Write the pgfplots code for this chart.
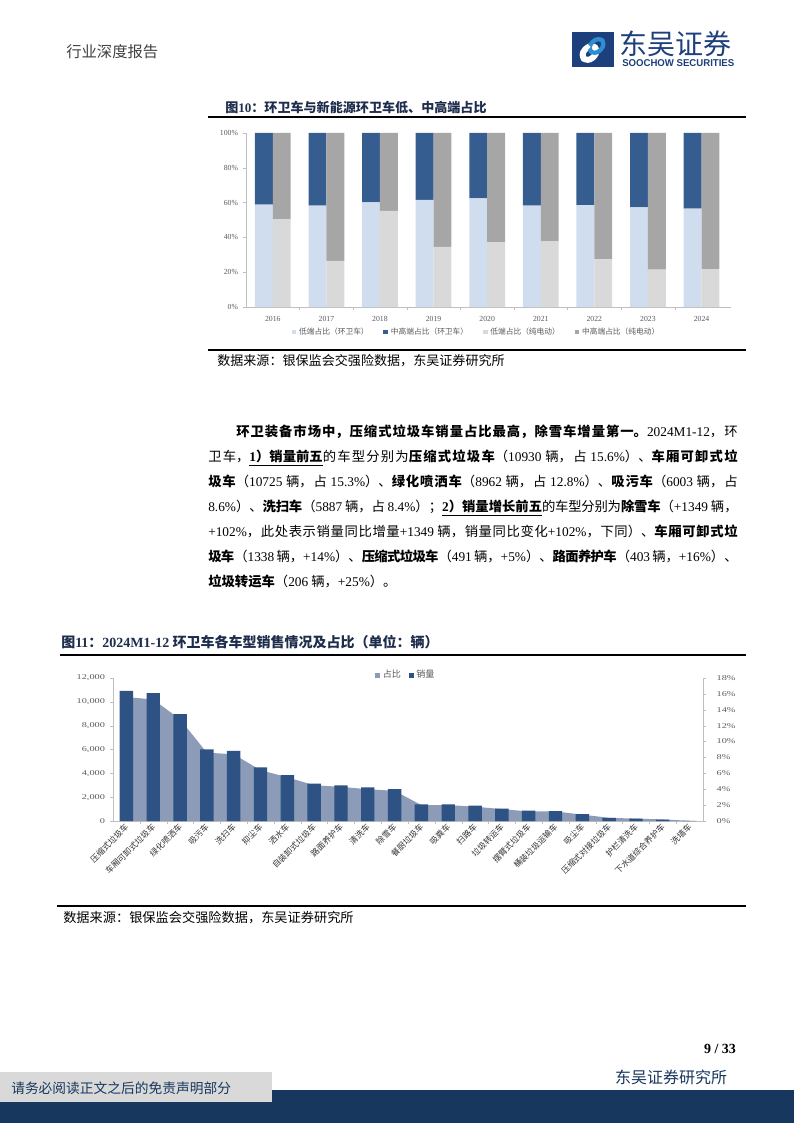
\documentclass[border=0pt]{standalone}
\usepackage{fontspec}
\usepackage{graphicx}
\usepackage{pgfplots}
\pgfplotsset{compat=1.18}
\setmainfont{Liberation Serif}
\newfontfamily\cjk{Noto Sans CJK SC}
\newfontfamily\lsans{Liberation Sans}
\XeTeXlinebreaklocale "zh"
\XeTeXlinebreakskip = 0pt plus 1.5pt minus 0.8pt
\definecolor{lowhw}{HTML}{D0DDEE}
\definecolor{midhw}{HTML}{365D8F}
\definecolor{lowev}{HTML}{D9D9D9}
\definecolor{midev}{HTML}{A6A6A6}
\definecolor{barblue}{HTML}{2E5283}
\definecolor{areablue}{HTML}{8C9BB8}
\definecolor{axgray}{HTML}{BFBFBF}
\definecolor{txtgray}{HTML}{595959}
\definecolor{footnavy}{HTML}{17375E}
\definecolor{logonavy}{HTML}{1D3F7C}
\definecolor{logocyan}{HTML}{2E8DD3}
\definecolor{titlec}{HTML}{1F2D4D}
\newcommand\B[1]{{\bfseries #1}}
\newcommand\N[1]{{\rmfamily #1}}
\pgfplotsset{
  sq/.style={legend image code/.code={\path[##1, draw=none] (0pt,-1.8pt) rectangle (3.6pt,1.8pt);}},
  cone/.style={scale only axis, width=363.75pt, height=130.5pt,
    at={(184.5pt,-230.25pt)}, anchor=south west,
    xmin=-0.5, xmax=8.55, ymin=0, ymax=100,
    ybar stacked, bar width=0.3333},
  ctwo/.style={scale only axis, width=442.5pt, height=107.25pt,
    at={(84.75pt,-615.75pt)}, anchor=south west,
    xmin=-0.5, xmax=21.5},
}
\begin{document}
\begin{tikzpicture}
\useasboundingbox (0,0) rectangle (595.5pt,-842.25pt);
\begin{scope}[x=0.75pt,y=-0.75pt]
% header
\node[anchor=west, inner sep=0, font=\cjk\fontsize{11.5}{12}\selectfont, text=black!75] at (66,52) {行业深度报告};
% logo
\fill[logonavy] (572,32) rectangle (614,67);
\begin{scope}[shift={(593,49.5)}, rotate=45]
  \draw[white, line width=4.5pt, rounded corners=5pt] (-13,-5.5) rectangle (3,5.5);
  \draw[logocyan, line width=3.2pt, rounded corners=5pt] (-3,-5.5) rectangle (13,5.5);
  \draw[white, line width=3pt] (-6,-5.5) -- (0,-5.5);
\end{scope}
\node[anchor=west, inner sep=0, font=\cjk\fontsize{21}{22}\selectfont, text=logonavy] at (619,44) {东吴证券};
\node[anchor=west, inner sep=0, text=logonavy] at (622,63) {\resizebox{84pt}{5.2pt}{\lsans\bfseries SOOCHOW SECURITIES}};
% figure 10 title and rules
\node[anchor=west, inner sep=0, font=\cjk\bfseries\fontsize{9.8}{10}\selectfont, text=titlec] at (225,107) {图\N{10}：环卫车与新能源环卫车低、中高端占比};
\draw[black, line width=1.5pt] (208,117.5) -- (746,117.5);
\draw[black, line width=1.5pt] (208,349.5) -- (746,349.5);
\node[anchor=west, inner sep=0, font=\cjk\fontsize{9.8}{10}\selectfont] at (217,361) {数据来源：银保监会交强险数据，东吴证券研究所};
% paragraph
\node[anchor=north west, inner sep=0, font=\cjk\fontsize{10}{18.75}\selectfont] at (208,425) {\parbox[t]{397pt}{\fontsize{10}{18.75}\selectfont\tolerance=10000\emergencystretch=0pt\parindent=0pt%
\hspace*{21pt}\B{环卫装备市场中，压缩式垃圾车销量占比最高，除雪车增量第一。}\N{2024M1-12}，环\linebreak
卫车，\underline{\B{\N{1}）销量前五}}的车型分别为\B{压缩式垃圾车}（\N{10930} 辆，占 \N{15.6\%}）、\B{车厢可卸式垃}\linebreak
\B{圾车}（\N{10725} 辆，占 \N{15.3\%}）、\B{绿化喷洒车}（\N{8962} 辆，占 \N{12.8\%}）、\B{吸污车}（\N{6003} 辆，占\linebreak
\N{8.6\%}）、\B{洗扫车}（\N{5887} 辆，占 \N{8.4\%}）；\underline{\B{\N{2}）销量增长前五}}的车型分别为\B{除雪车}（\N{+1349} 辆，\linebreak
\N{+102\%}，此处表示销量同比增量\N{+1349} 辆，销量同比变化\N{+102\%}，下同）、\B{车厢可卸式垃}\linebreak
\B{圾车}（\N{1338}\,辆，\N{+14\%}）、\B{压缩式垃圾车}（\N{491}\,辆，\N{+5\%}）、\B{路面养护车}（\N{403}\,辆，\N{+16\%}）、\linebreak
\B{垃圾转运车}（\N{206} 辆，\N{+25\%}）。}};
% figure 11 title and rules
\node[anchor=west, inner sep=0, font=\cjk\bfseries\fontsize{10.5}{11}\selectfont, text=titlec] at (61,642) {图\N{11}：\N{2024M1-12} 环卫车各车型销售情况及占比（单位：辆）};
\draw[black, line width=1.5pt] (60,654.5) -- (746,654.5);
\draw[black, line width=1.5pt] (57,905.5) -- (746,905.5);
\node[anchor=west, inner sep=0, font=\cjk\fontsize{9.9}{10}\selectfont] at (63,918) {数据来源：银保监会交强险数据，东吴证券研究所};
% footer
\node[anchor=center, inner sep=0, font=\bfseries\fontsize{10.5}{11}\selectfont] at (720,1049) {9 / 33};
\fill[footnavy] (0,1090) rectangle (794,1123);
\fill[lowev] (0,1072) rectangle (272,1102);
\node[anchor=west, inner sep=0, font=\cjk\fontsize{10.3}{11}\selectfont, text=footnavy] at (11,1088) {请务必阅读正文之后的免责声明部分};
\node[anchor=center, inner sep=0, font=\cjk\fontsize{12}{13}\selectfont, text=footnavy] at (671,1077) {东吴证券研究所};
\end{scope}

% ---------- Chart 1 ----------
\begin{axis}[cone,
  axis x line*=bottom, axis y line*=left,
  axis line style={draw=axgray, line width=0.6pt},
  tick align=outside,
  xtick={0,...,8}, xticklabels={2016,2017,2018,2019,2020,2021,2022,2023,2024},
  major x tick style={draw=none},
  minor xtick={0.5,1.5,...,7.5},
  minor tick length=2.5pt, minor tick style={draw=axgray},
  ytick={0,20,...,100}, yticklabels={0\%,20\%,40\%,60\%,80\%,100\%},
  ytick style={draw=axgray}, major tick length=2.5pt,
  tick label style={font=\fontsize{5.8}{6}\selectfont, text=txtgray},
  xticklabel style={yshift=-1pt},
]
\addplot[fill=lowhw, draw=none, bar shift=-0.1667] coordinates {(0,58.9) (1,58.2) (2,60.1) (3,61.6) (4,62.4) (5,58.2) (6,58.5) (7,57.2) (8,56.6)};
\addplot[fill=midhw, draw=none, bar shift=-0.1667] coordinates {(0,41.1) (1,41.8) (2,39.9) (3,38.4) (4,37.6) (5,41.8) (6,41.5) (7,42.8) (8,43.4)};
\end{axis}
\begin{axis}[cone, hide axis,
  legend style={at={(0.476,-0.144)}, anchor=center, draw=none, fill=none,
    font=\cjk\fontsize{5.8}{6}\selectfont, text=txtgray, legend columns=4,
    /tikz/every even column/.append style={column sep=9pt},
    inner sep=0pt, outer sep=0pt},
]
\addlegendimage{sq, fill=lowhw}
\addlegendimage{sq, fill=midhw}
\addlegendimage{sq, fill=lowev}
\addlegendimage{sq, fill=midev}
\addplot[fill=lowev, draw=none, bar shift=0.1667, forget plot] coordinates {(0,50.5) (1,26.5) (2,55.3) (3,34.5) (4,37.2) (5,37.8) (6,27.4) (7,21.5) (8,21.7)};
\addplot[fill=midev, draw=none, bar shift=0.1667, forget plot] coordinates {(0,49.5) (1,73.5) (2,44.7) (3,65.5) (4,62.8) (5,62.2) (6,72.6) (7,78.5) (8,78.3)};
\legend{低端占比（环卫车）,中高端占比（环卫车）,低端占比（纯电动）,中高端占比（纯电动）}
\end{axis}

% ---------- Chart 2 ----------
\begin{axis}[ctwo,
  ymin=0, ymax=18,
  axis x line*=bottom, axis y line*=right,
  axis line style={draw=axgray, line width=0.6pt},
  tick align=outside,
  xtick={0,...,21},
  xticklabels={压缩式垃圾车,车厢可卸式垃圾车,绿化喷洒车,吸污车,洗扫车,抑尘车,洒水车,自装卸式垃圾车,路面养护车,清洗车,除雪车,餐厨垃圾车,吸粪车,扫路车,垃圾转运车,摆臂式垃圾车,桶装垃圾运输车,吸尘车,压缩式对接垃圾车,护栏清洗车,下水道综合养护车,洗墙车},
  xticklabel style={rotate=45, anchor=east, font=\cjk\fontsize{6.2}{6.5}\selectfont, text=black!80, xshift=3pt, yshift=-1pt},
  major x tick style={draw=none},
  minor xtick={0.5,1.5,...,20.5},
  minor tick length=2.5pt, minor tick style={draw=axgray},
  ytick={0,2,...,18}, yticklabels={0\%,2\%,4\%,6\%,8\%,10\%,12\%,14\%,16\%,18\%},
  ytick style={draw=axgray}, major tick length=2.5pt,
  yticklabel style={font=\fontsize{5.5}{6}\selectfont, text=txtgray, xscale=1.4, anchor=west, xshift=2pt},
]
\addplot[fill=areablue, draw=none] coordinates {(0,15.6) (1,15.3) (2,12.8) (3,8.6) (4,8.4) (5,6.4) (6,5.5) (7,4.5) (8,4.3) (9,4.0) (10,3.8) (11,2.0) (12,2.0) (13,1.8) (14,1.5) (15,1.2) (16,1.2) (17,0.8) (18,0.4) (19,0.3) (20,0.2) (21,0.03)} \closedcycle;
\end{axis}
\begin{axis}[ctwo,
  ymin=0, ymax=12000, scaled y ticks=false,
  axis y line*=left, axis x line=none,
  axis line style={draw=axgray, line width=0.6pt},
  tick align=outside,
  xtick=\empty,
  ytick={0,2000,...,12000}, yticklabels={0,{2,000},{4,000},{6,000},{8,000},{10,000},{12,000}},
  ytick style={draw=axgray}, major tick length=2.5pt,
  yticklabel style={font=\fontsize{5.5}{6}\selectfont, text=txtgray, xscale=1.4, anchor=east, xshift=1pt},
  ybar, bar width=0.5, bar shift=0pt,
  legend style={at={(0.497,1.02)}, anchor=center, draw=none, fill=none,
    font=\cjk\fontsize{6.8}{7}\selectfont, text=txtgray, legend columns=2,
    /tikz/every even column/.append style={column sep=4pt},
    inner sep=0pt},
]
\addlegendimage{sq, fill=areablue}
\addplot[fill=barblue, draw=none, sq] coordinates {(0,10930) (1,10725) (2,8962) (3,6003) (4,5887) (5,4500) (6,3850) (7,3130) (8,3000) (9,2820) (10,2670) (11,1400) (12,1390) (13,1290) (14,1030) (15,870) (16,840) (17,570) (18,260) (19,200) (20,110) (21,20)};
\legend{占比,销量}
\end{axis}
\end{tikzpicture}
\end{document}
